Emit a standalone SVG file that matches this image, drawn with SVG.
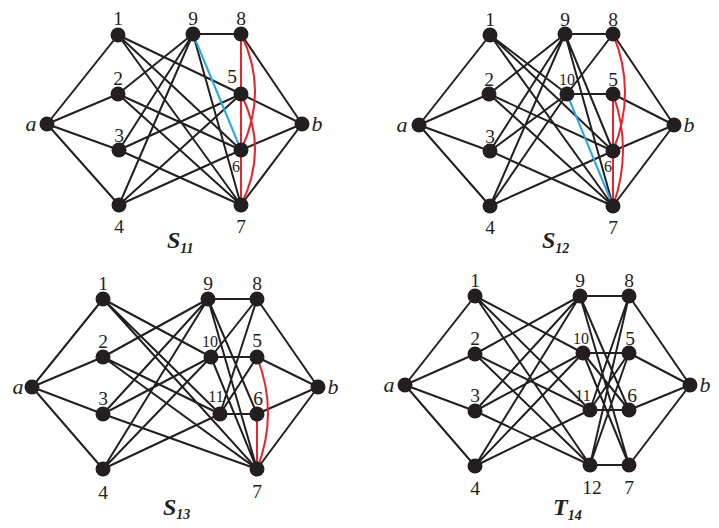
<svg xmlns="http://www.w3.org/2000/svg" width="719" height="528" viewBox="0 0 719 528">
<style>
.e{stroke:#231f20;stroke-width:2;fill:none}
.r{stroke:#e8232a;stroke-width:2;fill:none}
.bl{stroke:#29a8e0;stroke-width:2;fill:none}
.n{fill:#231f20}
.t{font-family:"Liberation Serif",serif;font-size:19.5px;fill:#231f20;text-anchor:middle}
.ts{font-family:"Liberation Serif",serif;font-size:16px;fill:#231f20;text-anchor:middle}
.it{font-family:"Liberation Serif",serif;font-size:22px;font-style:italic;fill:#231f20;text-anchor:middle}
.ti{font-family:"Liberation Serif",serif;font-style:italic;font-weight:bold;fill:#231f20;font-size:24px}
.sub{font-size:14px}
</style>
<rect width="719" height="528" fill="#fff"/>

<!-- S11 -->
<g id="S11-edges">
<path class="e" d="M47 124L118 35M47 124L118 94M47 124L119 150M47 124L119 205M302 124L241 34M302 124L241 94M302 124L241 150M302 124L241 205M118 35L241 94M118 35L241 150M118 35L241 205M118 94L193 34M118 94L241 150M118 94L241 205M119 150L193 34M119 150L241 94M119 150L241 205M119 205L193 34M119 205L241 94M119 205L241 150M193 34L241 34M193 34L241 205"/>
<path class="bl" d="M193 34L241 150"/>
<path class="r" d="M241 34L241 205M241 34Q269 91 241 150M241 94Q269 149 241 205"/>
</g>
<g id="S11-a"><circle class="n" cx="47" cy="124" r="7.5"/><text class="it" x="31" y="131">a</text></g>
<g id="S11-1"><circle class="n" cx="118" cy="35" r="7.5"/><text class="t" x="118" y="25">1</text></g>
<g id="S11-2"><circle class="n" cx="118" cy="94" r="7.5"/><text class="t" x="118" y="85">2</text></g>
<g id="S11-3"><circle class="n" cx="119" cy="150" r="7.5"/><text class="t" x="119" y="142">3</text></g>
<g id="S11-4"><circle class="n" cx="119" cy="205" r="7.5"/><text class="t" x="119" y="233">4</text></g>
<g id="S11-9"><circle class="n" cx="193" cy="34" r="7.5"/><text class="t" x="193" y="25">9</text></g>
<g id="S11-8"><circle class="n" cx="241" cy="34" r="7.5"/><text class="t" x="241" y="25">8</text></g>
<g id="S11-5"><circle class="n" cx="241" cy="94" r="7.5"/><text class="t" x="232" y="83">5</text></g>
<g id="S11-6"><circle class="n" cx="241" cy="150" r="7.5"/><text class="ts" x="236" y="172">6</text></g>
<g id="S11-7"><circle class="n" cx="241" cy="205" r="7.5"/><text class="t" x="241" y="233">7</text></g>
<g id="S11-b"><circle class="n" cx="302" cy="124" r="7.5"/><text class="it" x="317" y="131">b</text></g>
<text class="ti" x="167" y="248">S<tspan class="sub" dy="5">11</tspan></text>

<!-- S12 -->
<g id="S12-edges">
<path class="e" d="M419 125L490 35M419 125L489 94M419 125L490 151M419 125L490 206M674 125L613 34M674 125L613 94M674 125L613 151M674 125L613 206M490 35L567 94M490 35L613 151M490 35L613 206M489 94L565 34M489 94L613 151M489 94L613 206M490 151L565 34M490 151L567 94M490 151L613 206M490 206L565 34M490 206L567 94M490 206L613 151M565 34L613 34M567 94L613 94M613 34L567 94M565 34L613 206M565 34L613 151"/>
<path class="bl" d="M567 94L613 206"/>
<path class="r" d="M613 94L613 206M613 34Q637 92 613 151M613 94Q633 150 613 206"/>
</g>
<g id="S12-a"><circle class="n" cx="419" cy="125" r="7.5"/><text class="it" x="402" y="132">a</text></g>
<g id="S12-1"><circle class="n" cx="490" cy="35" r="7.5"/><text class="t" x="490" y="26">1</text></g>
<g id="S12-2"><circle class="n" cx="489" cy="94" r="7.5"/><text class="t" x="489" y="86">2</text></g>
<g id="S12-3"><circle class="n" cx="490" cy="151" r="7.5"/><text class="t" x="490" y="143">3</text></g>
<g id="S12-4"><circle class="n" cx="490" cy="206" r="7.5"/><text class="t" x="490" y="234">4</text></g>
<g id="S12-9"><circle class="n" cx="565" cy="34" r="7.5"/><text class="t" x="565" y="26">9</text></g>
<g id="S12-8"><circle class="n" cx="613" cy="34" r="7.5"/><text class="t" x="613" y="26">8</text></g>
<g id="S12-10"><circle class="n" cx="567" cy="94" r="7.5"/><text class="ts" x="567" y="85">10</text></g>
<g id="S12-5"><circle class="n" cx="613" cy="94" r="7.5"/><text class="t" x="613" y="86">5</text></g>
<g id="S12-6"><circle class="n" cx="613" cy="151" r="7.5"/><text class="ts" x="608" y="172">6</text></g>
<g id="S12-7"><circle class="n" cx="613" cy="206" r="7.5"/><text class="t" x="613" y="234">7</text></g>
<g id="S12-b"><circle class="n" cx="674" cy="125" r="7.5"/><text class="it" x="689" y="132">b</text></g>
<text class="ti" x="542" y="248">S<tspan class="sub" dy="5">12</tspan></text>

<!-- S13 -->
<g id="S13-edges">
<path class="e" d="M32 387L103 299M32 387L103 357M32 387L103 414M32 387L103 469M318 387L257 299M318 387L257 357M318 387L257 414M318 387L257 469M103 299L211 357M103 299L220 414M103 299L257 469M103 357L208 299M103 357L220 414M103 357L257 469M103 414L208 299M103 414L211 357M103 414L257 469M103 469L208 299M103 469L211 357M103 469L220 414M208 299L257 299M211 357L257 357M220 414L257 414M257 299L211 357M257 299L220 414M257 357L220 414M208 299L257 469M208 299L257 414M211 357L257 469"/>
<path class="r" d="M257 414L257 469M257 357Q279 413 257 469"/>
</g>
<g id="S13-a"><circle class="n" cx="32" cy="387" r="7.5"/><text class="it" x="18" y="394">a</text></g>
<g id="S13-1"><circle class="n" cx="103" cy="299" r="7.5"/><text class="t" x="103" y="290">1</text></g>
<g id="S13-2"><circle class="n" cx="103" cy="357" r="7.5"/><text class="t" x="103" y="348">2</text></g>
<g id="S13-3"><circle class="n" cx="103" cy="414" r="7.5"/><text class="t" x="103" y="405">3</text></g>
<g id="S13-4"><circle class="n" cx="103" cy="469" r="7.5"/><text class="t" x="103" y="499">4</text></g>
<g id="S13-9"><circle class="n" cx="208" cy="299" r="7.5"/><text class="t" x="208" y="290">9</text></g>
<g id="S13-8"><circle class="n" cx="257" cy="299" r="7.5"/><text class="t" x="257" y="290">8</text></g>
<g id="S13-10"><circle class="n" cx="211" cy="357" r="7.5"/><text class="ts" x="210" y="347">10</text></g>
<g id="S13-5"><circle class="n" cx="257" cy="357" r="7.5"/><text class="t" x="257" y="347">5</text></g>
<g id="S13-11"><circle class="n" cx="220" cy="414" r="7.5"/><text class="ts" x="216" y="402">11</text></g>
<g id="S13-6"><circle class="n" cx="257" cy="414" r="7.5"/><text class="t" x="258" y="405">6</text></g>
<g id="S13-7"><circle class="n" cx="257" cy="469" r="7.5"/><text class="t" x="257" y="498">7</text></g>
<g id="S13-b"><circle class="n" cx="318" cy="387" r="7.5"/><text class="it" x="333" y="394">b</text></g>
<text class="ti" x="163" y="515">S<tspan class="sub" dy="4">13</tspan></text>

<!-- T14 -->
<g id="T14-edges">
<path class="e" d="M405 385L475 296M405 385L475 354M405 385L475 411M405 385L475 466M690 385L629 296M690 385L629 353M690 385L629 410M690 385L629 465M475 296L583 353M475 296L590 410M475 296L590 465M475 354L580 296M475 354L590 410M475 354L590 465M475 411L580 296M475 411L583 353M475 411L590 465M475 466L580 296M475 466L583 353M475 466L590 410M580 296L629 296M583 353L629 353M590 410L629 410M590 465L629 465M629 296L590 410M629 296L590 465M629 353L590 465M629 353L590 410M580 296L629 410M580 296L629 465M583 353L629 465M583 353L629 410"/>
</g>
<g id="T14-a"><circle class="n" cx="405" cy="385" r="7.5"/><text class="it" x="389" y="392">a</text></g>
<g id="T14-1"><circle class="n" cx="475" cy="296" r="7.5"/><text class="t" x="475" y="287">1</text></g>
<g id="T14-2"><circle class="n" cx="475" cy="354" r="7.5"/><text class="t" x="475" y="345">2</text></g>
<g id="T14-3"><circle class="n" cx="475" cy="411" r="7.5"/><text class="t" x="475" y="402">3</text></g>
<g id="T14-4"><circle class="n" cx="475" cy="466" r="7.5"/><text class="t" x="475" y="495">4</text></g>
<g id="T14-9"><circle class="n" cx="580" cy="296" r="7.5"/><text class="t" x="580" y="287">9</text></g>
<g id="T14-8"><circle class="n" cx="629" cy="296" r="7.5"/><text class="t" x="629" y="287">8</text></g>
<g id="T14-10"><circle class="n" cx="583" cy="353" r="7.5"/><text class="ts" x="581" y="344">10</text></g>
<g id="T14-5"><circle class="n" cx="629" cy="353" r="7.5"/><text class="t" x="630" y="345">5</text></g>
<g id="T14-11"><circle class="n" cx="590" cy="410" r="7.5"/><text class="ts" x="583" y="401">11</text></g>
<g id="T14-6"><circle class="n" cx="629" cy="410" r="7.5"/><text class="t" x="632" y="402">6</text></g>
<g id="T14-12"><circle class="n" cx="590" cy="465" r="7.5"/><text class="t" x="592" y="494">12</text></g>
<g id="T14-7"><circle class="n" cx="629" cy="465" r="7.5"/><text class="t" x="629" y="494">7</text></g>
<g id="T14-b"><circle class="n" cx="690" cy="385" r="7.5"/><text class="it" x="705" y="392">b</text></g>
<text class="ti" x="553" y="515">T<tspan class="sub" dy="5">14</tspan></text>
</svg>
